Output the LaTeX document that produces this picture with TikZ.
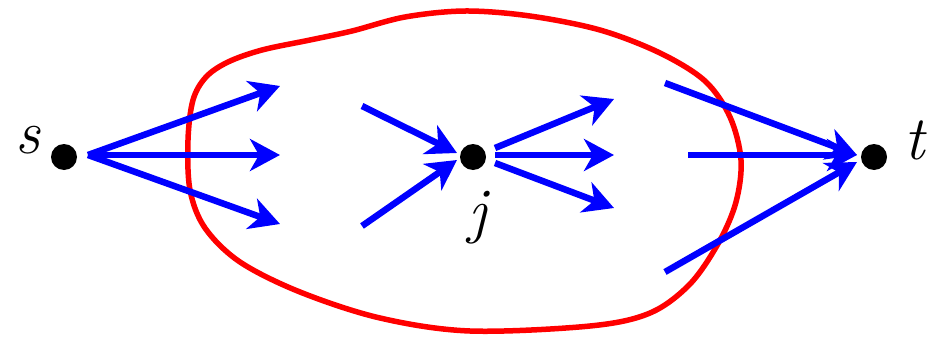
\documentclass[tikz,border=0pt]{standalone}
\usetikzlibrary{arrows.meta}
\begin{document}
\begin{tikzpicture}[x=1pt,y=-1pt,
  dot/.style={circle,fill=black,inner sep=0pt,minimum size=26pt},
  flow/.style={draw=blue,line width=6.5pt,-{Stealth[length=30pt,width=32pt,inset=9pt]}},
  lbl/.style={font=\fontsize{62}{70}\selectfont\itshape,inner sep=0pt}]
\useasboundingbox (0,0) rectangle (934,340);
% red region
\draw[red,line width=5.5pt] plot[smooth cycle,tension=0.55] coordinates
 {(188,140) (193,100) (206,77) (228,62) (262,50) (310,40) (352,31) (405,17)
  (465,11) (530,16) (600,30) (660,53) (705,81) (730,117) (741,160) (736,202)
  (719,242) (690,284) (650,313) (590,326) (470,331) (380,318) (300,292)
  (240,262) (205,228) (190,190)};
% nodes
\node[dot] (s) at (64,157) {};
\node[dot] (j) at (473,157) {};
\node[dot] (t) at (874,157) {};
\node[lbl] (sl) at (28,140) {s};
\node[lbl] (jl) at (478,218) {j};
\node[lbl] (tl) at (915,140) {t};
% coordinates
\coordinate (s0) at (88,155);
\coordinate (a1) at (280,86);
\coordinate (a2) at (280,155);
\coordinate (a3) at (280,224);
\coordinate (b1) at (362,106);
\coordinate (b2) at (362,226);
\coordinate (j1) at (457,153);
\coordinate (j2) at (457,160);
\coordinate (c0a) at (495,148);
\coordinate (c0b) at (495,155);
\coordinate (c0c) at (495,163);
\coordinate (c1) at (614,99);
\coordinate (c2) at (614,155);
\coordinate (c3) at (614,208);
\coordinate (d1) at (665,83);
\coordinate (d2) at (688,155);
\coordinate (d3) at (665,272);
\coordinate (t1) at (857,155);
\coordinate (t2) at (857,155);
\coordinate (t3) at (857,162);
% arrows
\draw[flow] (s0) -- (a1);
\draw[flow] (s0) -- (a2);
\draw[flow] (s0) -- (a3);
\draw[flow] (b1) -- (j1);
\draw[flow] (b2) -- (j2);
\draw[flow] (c0a) -- (c1);
\draw[flow] (c0b) -- (c2);
\draw[flow] (c0c) -- (c3);
\draw[flow] (d1) -- (t1);
\draw[flow] (d2) -- (t2);
\draw[flow] (d3) -- (t3);
\end{tikzpicture}
\end{document}
